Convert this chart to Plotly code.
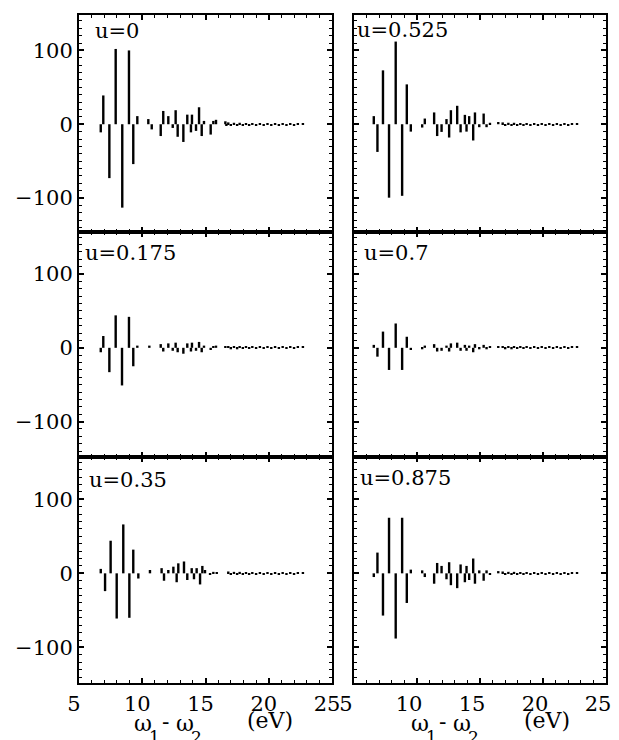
import plotly.graph_objects as go

W, H = 619, 740          # screenshot size
OFF = 8                  # default page (body) margin of the html page
FW, FH = W - OFF, H - OFF  # figure size so that it fills the window exactly

# ---------------- data (energy in eV, amplitude) ----------------
labels = ["u=0", "u=0.175", "u=0.35", "u=0.525", "u=0.7", "u=0.875"]

# u = 0
x_u0 = [6.72, 6.92, 7.40, 7.90, 8.42, 8.95, 9.29, 9.61, 10.48, 10.75, 11.46, 11.66, 12.06,
        12.41, 12.64, 12.80, 13.25, 13.56, 13.85, 13.93, 14.25, 14.49, 14.70, 14.88,
        15.41, 15.62, 15.83, 16.57, 16.65]
y_u0 = [-11, 39, -73, 102, -113, 100, -54, 11, 7, -7, -16, 18, 11,
        -5, 19, -17, -24, 13, -11, 13, -9, 23, -16, 4.5,
        -14, 4.5, 6, 4, -2]

# u = 0.175
x_u175 = [6.72, 6.92, 7.40, 7.90, 8.40, 8.95, 9.29, 9.61, 10.56, 11.46, 11.66, 12.06,
          12.41, 12.64, 12.80, 13.25, 13.56, 13.85, 13.93, 14.25, 14.49, 14.70, 14.88,
          15.41, 15.62, 15.83, 16.57]
y_u175 = [-6, 16, -33, 44, -51, 42, -25, 3, 3, 5, -5, 6,
          -4, 7, -6, -8, 6, -5, 7, -4, 8, -6, 3,
          -3, 2, 3, 2]

# u = 0.35
x_u35 = [6.72, 7.06, 7.50, 7.98, 8.50, 8.98, 9.29, 9.69, 10.61, 11.53, 11.72, 12.06,
         12.46, 12.72, 12.85, 13.30, 13.56, 13.91, 14.09, 14.30, 14.57, 14.75, 14.96,
         15.36, 15.62, 15.89]
y_u35 = [6, -24, 44, -61, 66, -60, 32, -7, 4.5, 7, -10, 4.5,
         9, -12, 13.5, 16, -9, 7, -8, 7, -15, 10, 4.5,
         -2, 2, 1.5]

# u = 0.525
x_u525 = [6.57, 6.86, 7.30, 7.78, 8.31, 8.82, 9.19, 9.51, 10.41, 10.62, 11.36, 11.60,
          11.95, 12.34, 12.55, 12.69, 13.19, 13.46, 13.80, 13.93, 14.14, 14.46, 14.60,
          14.94, 15.29, 15.52, 15.79, 16.45]
y_u525 = [11, -37.5, 73, -99.5, 112, -97, 54, -10, -4.5, 7.7, 16, -16,
          -10.4, 7, -18, 19, 25, -11, 12.7, -10, 11, -22, 16,
          -4, 14.5, -4, 2, 3]

# u = 0.7
x_u7 = [6.57, 6.86, 7.30, 7.78, 8.31, 8.82, 9.19, 9.51, 10.41, 10.62, 11.36, 11.60,
        11.95, 12.34, 12.55, 12.69, 13.19, 13.46, 13.80, 13.93, 14.14, 14.46, 14.60,
        14.94, 15.29, 15.52, 15.79, 16.45]
y_u7 = [4, -12, 22, -30, 33, -30, 15, -3, -2, 3, 5, -5,
        -4, 3, -5, 6, 7, -4, 4, -4, 3, -6, 5,
        -2, 4, -2, 1.5, 2]

# u = 0.875
x_u875 = [6.57, 6.86, 7.30, 7.78, 8.31, 8.82, 9.19, 9.51, 10.41, 10.62, 11.36, 11.60,
          11.95, 12.34, 12.55, 12.69, 13.19, 13.46, 13.80, 13.93, 14.14, 14.46, 14.60,
          14.94, 15.29, 15.52, 15.79, 16.45]
y_u875 = [-5, 28, -57, 75, -88, 75, -40, 5, 4, -5, -14, 14,
          10, -8, 15, -16, -20, 12, -12, 10, -9, 20, -14,
          4, -10, 4, -2, 3]

# weak tail shared by all panels
tail_x = [16.8, 17.0, 17.25, 17.5, 17.7, 17.95, 18.2, 18.45, 18.7, 19.0, 19.3, 19.6,
          19.9, 20.2, 20.5, 20.8, 21.1, 21.4, 21.7, 22.0, 22.3, 22.7]
tail_y = [2.5, -2, 2, -2, 2, -1.5, 1.5, -1.5, 1.5, -1.5, 1.5, -1.5,
          1.5, -1.5, 1.5, -1.5, 1.5, -1.5, 1.5, -1.5, 1.5, 1.5]

panel_x = [x_u0, x_u175, x_u35, x_u525, x_u7, x_u875]
panel_y = [y_u0, y_u175, y_u35, y_u525, y_u7, y_u875]

x_ticks = [5, 10, 15, 20, 25]
x_ticklabels = ["5", "10", "15", "20", "25"]
y_ticks = [-100, 0, 100]
y_ticklabels = ["\u2212100", "0", "100"]


# ---------------- layout helpers ----------------
def fx(px):
    return (px - OFF) / FW


def fy(py):
    return 1 - (py - OFF) / FH


FONT = "DejaVu Serif"
col_dom = [[fx(79), fx(332)], [fx(354), fx(606)]]
col_shift = [-5, -8]
row_px = [(15, 232), (232, 457), (457, 683)]
row_dom = [[fy(b), fy(t)] for (t, b) in row_px]
row_rng = [[-146, 148], [-148, 157], [-148, 157]]

fig = go.Figure()

for i in range(6):
    col = i // 3
    row = i % 3
    n = i + 1
    xa = "x" if n == 1 else f"x{n}"
    ya = "y" if n == 1 else f"y{n}"
    fig.add_trace(go.Bar(
        x=panel_x[i] + tail_x, y=panel_y[i] + tail_y,
        width=0.19, marker=dict(color="black", line=dict(width=0)),
        xaxis=xa, yaxis=ya, showlegend=False, hoverinfo="skip"))

    xkey = "xaxis" if n == 1 else f"xaxis{n}"
    ykey = "yaxis" if n == 1 else f"yaxis{n}"
    fig.layout[xkey] = dict(
        domain=col_dom[col], anchor=ya, range=[5, 25],
        tickmode="array", tickvals=x_ticks, ticktext=x_ticklabels,
        showticklabels=(row == 2),
        ticks="inside", ticklen=5, tickwidth=1.5, tickcolor="black",
        minor=dict(dtick=1, tick0=5, ticks="inside", ticklen=3, tickwidth=1.2, tickcolor="black"),
        showline=True, linecolor="black", linewidth=2, mirror="allticks",
        showgrid=False, zeroline=False,
        tickfont=dict(family=FONT, size=21, color="black"),
        ticklabelstandoff=1, ticklabelshift=col_shift[col], ticklabeloverflow="allow",
        fixedrange=True, automargin=False)
    fig.layout[ykey] = dict(
        domain=row_dom[row], anchor=xa, range=row_rng[row],
        tickmode="array", tickvals=y_ticks, ticktext=y_ticklabels,
        showticklabels=(col == 0),
        ticks="inside", ticklen=5, tickwidth=1.5, tickcolor="black",
        minor=dict(dtick=10, tick0=0, ticks="inside", ticklen=3, tickwidth=1.2, tickcolor="black"),
        showline=True, linecolor="black", linewidth=2, mirror="allticks",
        showgrid=False, zeroline=False,
        tickfont=dict(family=FONT, size=21, color="black"),
        ticklabelstandoff=0, ticklabeloverflow="allow",
        fixedrange=True, automargin=False)

# panel labels
label_pos = [(93, 31), (83, 253), (87, 480), (355, 30), (362, 253), (358, 478)]
ann = []
for lab, (px, py) in zip(labels, label_pos):
    ann.append(dict(text=lab, x=fx(px), y=fy(py), xref="paper", yref="paper",
                    xanchor="left", yanchor="middle", showarrow=False,
                    font=dict(family=FONT, size=21, color="black")))

# axis titles  ω1 - ω2   (eV)
for x0 in (143, 420):
    parts = [("\u03c9", x0, 723, 22), ("1", x0 + 11, 737, 17), ("-", x0 + 22, 721, 22),
             ("\u03c9", x0 + 42, 723, 22), ("2", x0 + 53, 737, 17), ("(eV)", x0 + 127, 720, 22)]
    for t, px, py, fs in parts:
        ann.append(dict(text=t, x=fx(px), y=fy(py), xref="paper", yref="paper",
                        xanchor="center", yanchor="middle", showarrow=False,
                        font=dict(family=FONT, size=fs, color="black")))

fig.update_layout(
    width=FW, height=FH, margin=dict(l=0, r=0, t=0, b=0, pad=0),
    paper_bgcolor="white", plot_bgcolor="white",
    barmode="overlay", annotations=ann, showlegend=False)

fig.write_html("out.html", config={"displayModeBar": False})
